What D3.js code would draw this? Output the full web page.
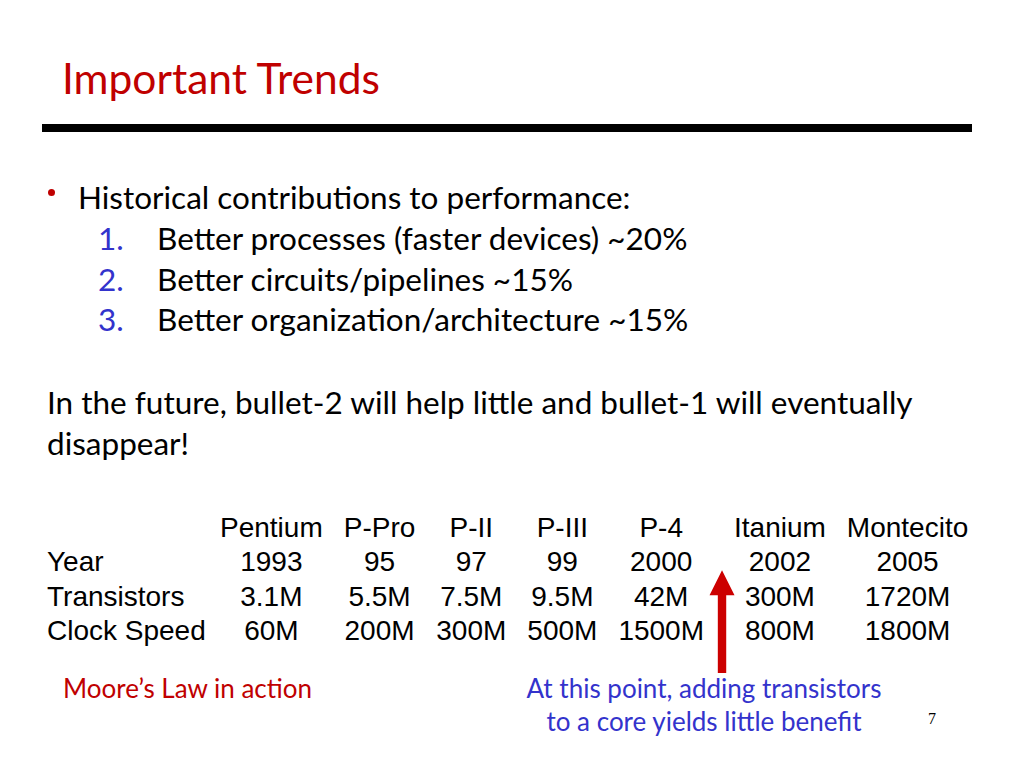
<!DOCTYPE html>
<html>
<head>
<meta charset="utf-8">
<script src="https://cdn.jsdelivr.net/npm/d3@7"></script>
<style>
  html, body { margin: 0; padding: 0; background: #fff; }
  svg { display: block; }
</style>
</head>
<body>
<svg id="slide"></svg>
<script>
/* Slide data */
var title = "Important Trends";
var bulletText = "Historical contributions to performance:";
var contribItems = ["Better processes (faster devices)", "Better circuits/pipelines", "Better organization/architecture"];
var contribShares = [20, 15, 15];
var futureLines = ["In the future, bullet-2 will help little and bullet-1 will eventually", "disappear!"];

var chips = ["Pentium", "P-Pro", "P-II", "P-III", "P-4", "Itanium", "Montecito"];
var years = ["1993", "95", "97", "99", "2000", "2002", "2005"];
var transistors = ["3.1M", "5.5M", "7.5M", "9.5M", "42M", "300M", "1720M"];
var clockSpeeds = ["60M", "200M", "300M", "500M", "1500M", "800M", "1800M"];
var rowLabels = ["Year", "Transistors", "Clock Speed"];
var arrowAfter = "P-4"; // the red arrow sits between P-4 and Itanium

var mooreNote = "Moore\u2019s Law in action";
var benefitNote = ["At this point, adding transistors", "to a core yields little benefit"];
var pageNumber = "7";

/* Sizes and colours */
var width = 1024, height = 768;
var red = "#c00000", blue = "#3333cc";
var bodyFont = "Lato, 'Open Sans', sans-serif";
var tableFont = "'Liberation Sans', Arial, sans-serif";
var bodySize = 31.5;

var svg = d3.select("#slide").attr("width", width).attr("height", height);
svg.append("rect").attr("width", width).attr("height", height).attr("fill", "#fff");

// Title + rule
svg.append("text")
  .attr("x", 62).attr("y", 94)
  .attr("font-family", bodyFont).attr("font-size", 42.5)
  .attr("fill", red)
  .text(title);

svg.append("rect")
  .attr("x", 42).attr("y", 124)
  .attr("width", 930).attr("height", 8)
  .attr("fill", "#000");

// Bullet and numbered list
svg.append("circle").attr("cx", 51.5).attr("cy", 192.5).attr("r", 3.5).attr("fill", red);
svg.append("text")
  .attr("x", 78).attr("y", 209)
  .attr("font-family", bodyFont).attr("font-size", bodySize)
  .text(bulletText);

var listY = d3.scalePoint().domain(d3.range(contribItems.length)).range([250, 331]);
var items = svg.append("g").selectAll("g")
  .data(contribItems)
  .enter().append("g")
  .attr("transform", function(d, i) { return "translate(0," + listY(i) + ")"; });
items.append("text")
  .attr("x", 98)
  .attr("font-family", bodyFont).attr("font-size", bodySize)
  .attr("fill", blue)
  .text(function(d, i) { return (i + 1) + "."; });
items.append("text")
  .attr("x", 157)
  .attr("font-family", bodyFont).attr("font-size", bodySize)
  .text(function(d, i) { return d + " ~" + contribShares[i] + "%"; });

// Paragraph
svg.append("g").selectAll("text")
  .data(futureLines)
  .enter().append("text")
  .attr("x", 47)
  .attr("y", function(d, i) { return 414 + i * 41; })
  .attr("font-family", bodyFont).attr("font-size", bodySize)
  .text(function(d) { return d; });

/* Table: columns sized from the measured text, centred in each column */
var tableRows = [{ label: "", cells: chips }].concat(rowLabels.map(function(l, i) {
  return { label: l, cells: [years, transistors, clockSpeeds][i] };
}));
var rowY = d3.scalePoint().domain(tableRows.map(function(r) { return r.label; })).range([537, 640]);

var tableLeft = 220, gutter = 21, arrowGap = 30;

var table = svg.append("g");
var rowG = table.selectAll("g.row")
  .data(tableRows)
  .enter().append("g")
  .attr("class", "row")
  .attr("transform", function(d) { return "translate(0," + rowY(d.label) + ")"; });

rowG.append("text")
  .attr("x", 47)
  .attr("font-family", tableFont).attr("font-size", 28)
  .text(function(d) { return d.label; });

var cells = rowG.selectAll("text.cell")
  .data(function(d) { return d.cells.map(function(v, j) { return { v: v, col: j }; }); })
  .enter().append("text")
  .attr("class", "cell")
  .attr("text-anchor", "middle")
  .attr("font-family", tableFont).attr("font-size", 28)
  .text(function(d) { return d.v; });

// widest text per column
var colWidths = chips.map(function() { return 0; });
cells.each(function(d) {
  colWidths[d.col] = Math.max(colWidths[d.col], this.getComputedTextLength());
});

var arrowCol = chips.indexOf(arrowAfter);
var colCenters = [], arrowX = 0, cursor = tableLeft;
colWidths.forEach(function(w, j) {
  colCenters.push(cursor + w / 2);
  cursor += w;
  if (j === arrowCol) { arrowX = cursor + arrowGap * 0.6; cursor += arrowGap; }
  else { cursor += gutter; }
});
cells.attr("x", function(d) { return colCenters[d.col]; });

// Red arrow
var tipY = rowY("Year") - 1;
var endY = rowY("Clock Speed") + 33;
var headH = 25, headW = 12.5, shaftW = 4.2;
svg.append("path")
  .attr("d", d3.line()([
    [arrowX, tipY],
    [arrowX + headW, tipY + headH],
    [arrowX + shaftW, tipY + headH],
    [arrowX + shaftW, endY],
    [arrowX - shaftW, endY],
    [arrowX - shaftW, tipY + headH],
    [arrowX - headW, tipY + headH]
  ]) + "Z")
  .attr("fill", "#cc0000");

// Notes
svg.append("text")
  .attr("x", 63).attr("y", 698)
  .attr("font-family", bodyFont).attr("font-size", 26)
  .attr("fill", red)
  .text(mooreNote);

svg.append("g").selectAll("text")
  .data(benefitNote)
  .enter().append("text")
  .attr("x", 704)
  .attr("y", function(d, i) { return 698 + i * 33; })
  .attr("text-anchor", "middle")
  .attr("font-family", bodyFont).attr("font-size", 26)
  .attr("fill", blue)
  .text(function(d) { return d; });

svg.append("text")
  .attr("x", 928).attr("y", 724)
  .attr("font-family", "'Liberation Serif', 'DejaVu Serif', serif").attr("font-size", 16)
  .text(pageNumber);
</script>
</body>
</html>
